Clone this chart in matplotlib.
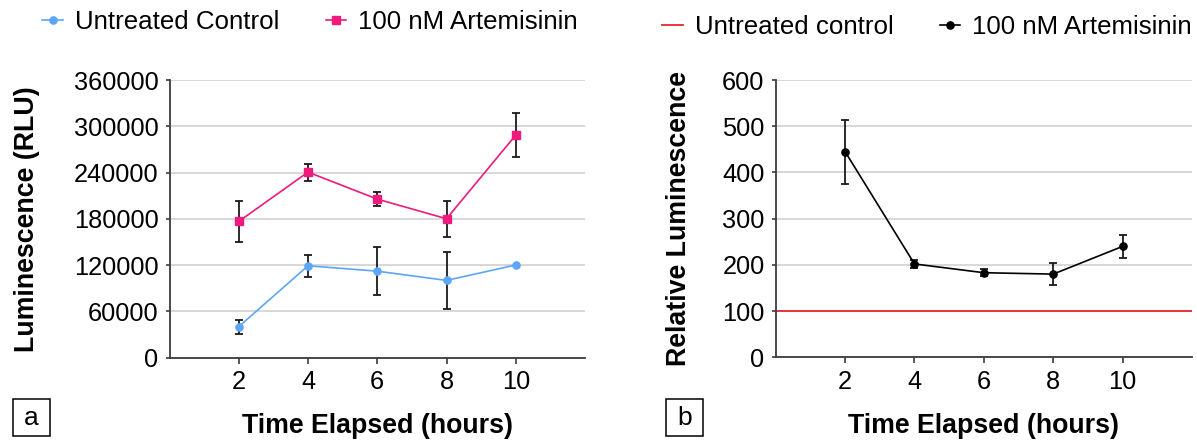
import numpy as np
import matplotlib
matplotlib.use('Agg')
import matplotlib.pyplot as plt
from matplotlib.patches import Rectangle
from matplotlib.lines import Line2D

# luminescence time course, panel a (RLU) and panel b (relative to control)
hours = [2, 4, 6, 8, 10]
ctrl_rlu = [40000, 119000, 112000, 100000, 120000]
ctrl_err = [9000, 14500, 31000, 37000, np.nan]
art_rlu = [176500, 240500, 205500, 180000, 288500]
art_err = [27000, 11000, 9000, 23500, 28500]

rel_art = [445, 202, 183, 180, 240]
rel_err = [69, 8, 7.5, 23, 24.5]
rel_ctrl = 100

BLUE = '#5ca6f7'; PINK = '#ee1a7c'; RED = '#e8262b'
SPINE = '#3c3c3c'; GRID = '#d4d4d4'; ERR = '#1a1a1a'

plt.rcParams.update({
    'font.family': ['Liberation Sans', 'DejaVu Sans'],
    'font.size': 18.3,
})

W, H = 1197, 444
fig = plt.figure(figsize=(W/100, H/100), dpi=100)

def px_axes(x0, y0, x1, y1):
    return fig.add_axes([x0/W, 1 - y1/H, (x1 - x0)/W, (y1 - y0)/H])

def style(ax):
    for s in ('top', 'right'):
        ax.spines[s].set_visible(False)
    for s in ('left', 'bottom'):
        ax.spines[s].set_color(SPINE)
        ax.spines[s].set_linewidth(1.3)
    ax.tick_params(axis='both', colors=SPINE, labelcolor='black', length=4, width=1.2, pad=5)
    ax.tick_params(axis='y', length=3)
    ax.yaxis.grid(True, color=GRID, lw=1.3)
    ax.set_axisbelow(True)
    ax.set_xlim(0, 12)
    ax.set_xticks(hours)

def panel_box(letter, x0):
    fig.patches.append(Rectangle((x0/W, 1 - 436/H), 37/W, 37/H, transform=fig.transFigure,
                                 fill=False, edgecolor='black', lw=1.1))
    fig.text((x0 + 18.5)/W, 1 - 418/H, letter, ha='center', va='center', fontsize=19)

# ── Panel a: raw luminescence ──────────────────────────────
ax1 = px_axes(169.5, 80, 585, 357.5)
style(ax1)
ax1.errorbar(hours, ctrl_rlu, yerr=ctrl_err, fmt='none', ecolor=ERR, elinewidth=1.3,
             capsize=3, capthick=1.3, zorder=3)
ax1.errorbar(hours, art_rlu, yerr=art_err, fmt='none', ecolor=ERR, elinewidth=1.3,
             capsize=3, capthick=1.3, zorder=3)
ax1.plot(hours, ctrl_rlu, color=BLUE, lw=1.2, marker='o', ms=5.2, zorder=4)
ax1.plot(hours, art_rlu, color=PINK, lw=1.2, marker='s', ms=5.2, zorder=4)
ax1.set_ylim(0, 360000)
ax1.set_yticks(np.arange(0, 360001, 60000))
ax1.set_xlabel('Time Elapsed (hours)', fontweight='bold', fontsize=19.3, labelpad=14)
ax1.set_ylabel('Luminescence (RLU)', fontweight='bold', fontsize=19.3, labelpad=24)

h1 = [Line2D([], [], color=BLUE, lw=1.2, marker='o', ms=5.2),
      Line2D([], [], color=PINK, lw=1.2, marker='s', ms=5.2)]
fig.legend(h1, ['Untreated Control', '100 nM Artemisinin'], loc='center',
           bbox_to_anchor=(310/W, 1 - 22/H), ncol=2, frameon=False, borderpad=0,
           handlelength=0.8, handletextpad=0.45, columnspacing=1.8, fontsize=18.6)
panel_box('a', 13)

# ── Panel b: relative to untreated control ─────────────────
ax2 = px_axes(775.7, 80, 1192, 357.3)
style(ax2)
ax2.axhline(rel_ctrl, color=RED, lw=1.3, zorder=2)
ax2.errorbar(hours, rel_art, yerr=rel_err, fmt='none', ecolor=ERR, elinewidth=1.3,
             capsize=3, capthick=1.3, zorder=3)
ax2.plot(hours, rel_art, color='black', lw=1.2, marker='o', ms=5.2, zorder=4)
ax2.set_ylim(0, 600)
ax2.set_yticks(np.arange(0, 601, 100))
ax2.set_xlabel('Time Elapsed (hours)', fontweight='bold', fontsize=19.3, labelpad=14)
ax2.set_ylabel('Relative Luminescence', fontweight='bold', fontsize=19.3, labelpad=22)

h2 = [Line2D([], [], color=RED, lw=1.3),
      Line2D([], [], color='black', lw=1.2, marker='o', ms=5.2)]
fig.legend(h2, ['Untreated control', '100 nM Artemisinin'], loc='center',
           bbox_to_anchor=(927/W, 1 - 27/H), ncol=2, frameon=False, borderpad=0,
           handlelength=0.8, handletextpad=0.45, columnspacing=1.8, fontsize=18.6)
panel_box('b', 666)

fig.savefig('out.png', dpi=100)
